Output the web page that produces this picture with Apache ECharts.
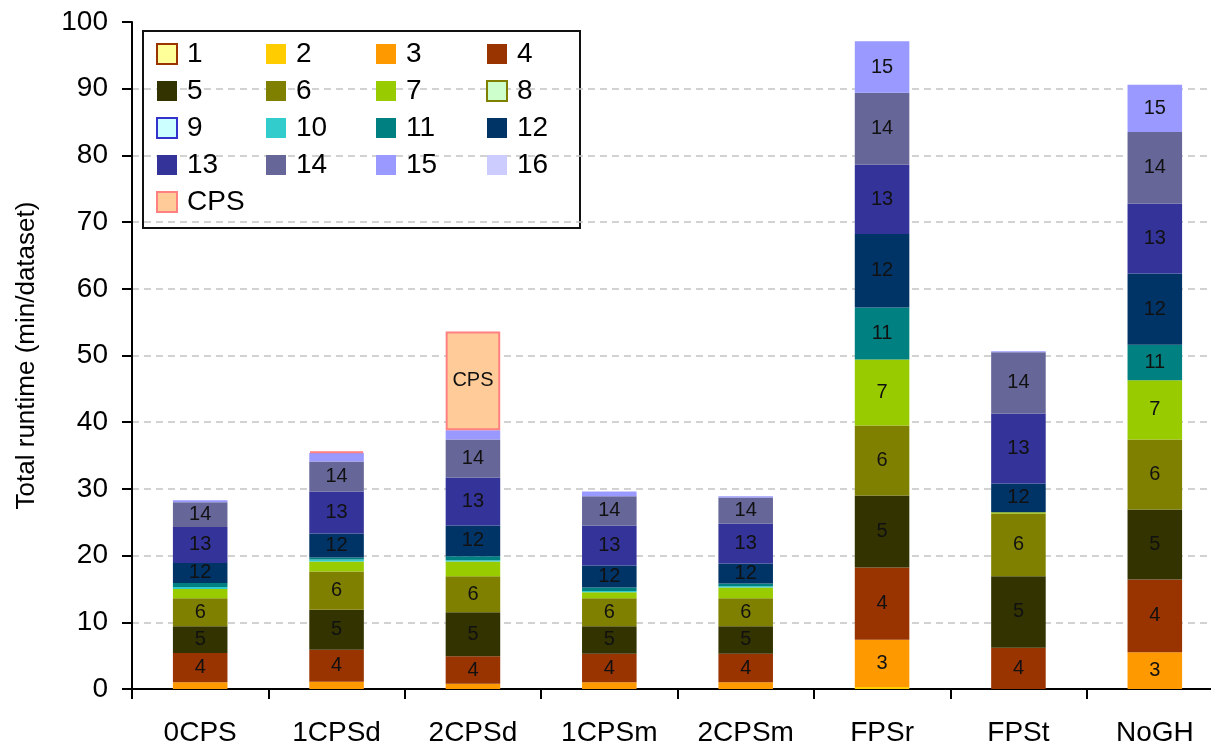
<!DOCTYPE html>
<html>
<head>
<meta charset="utf-8">
<script src="https://cdn.jsdelivr.net/npm/echarts@6/dist/echarts.min.js"></script>
<style>
  html, body { margin: 0; padding: 0; background: #fff; overflow: hidden; }
  /* the original plot runs a little past the right edge of the picture */
  #chart { width: 1224px; height: 748px; }
</style>
</head>
<body>
<div id="chart"></div>
<script>
// runtime per step, stacked (min/dataset)
const categories = ['0CPS', '1CPSd', '2CPSd', '1CPSm', '2CPSm', 'FPSr', 'FPSt', 'NoGH']
const yTicks = [0, 10, 20, 30, 40, 50, 60, 70, 80, 90, 100]

const s1 = [0, 0, 0, 0, 0, 0, 0, 0]
const s2 = [0, 0, 0, 0, 0, 0.3, 0, 0]
const s3 = [1.0, 1.1, 0.8, 1.0, 1.0, 7.1, 0, 5.5]
const s4 = [4.4, 4.8, 4.1, 4.3, 4.3, 10.8, 6.2, 10.9]
const s5 = [4.0, 6.0, 6.6, 4.1, 4.1, 10.8, 10.7, 10.5]
const s6 = [4.2, 5.7, 5.4, 4.2, 4.2, 10.5, 9.4, 10.5]
const s7 = [1.4, 1.5, 2.2, 0.9, 1.6, 9.9, 0.2, 8.9]
const s8 = [0, 0, 0, 0, 0, 0, 0, 0]
const s9 = [0, 0, 0, 0, 0, 0, 0, 0]
const s10 = [0.3, 0.3, 0.2, 0.2, 0.2, 0, 0, 0]
const s11 = [0.6, 0.3, 0.6, 0.5, 0.4, 7.8, 0, 5.3]
const s12 = [3.0, 3.6, 4.6, 3.3, 3.0, 11.0, 4.3, 10.7]
const s13 = [5.4, 6.3, 7.2, 6.0, 6.0, 10.4, 10.5, 10.5]
const s14 = [3.7, 4.5, 5.7, 4.4, 3.9, 10.8, 9.2, 10.7]
const s15 = [0.3, 1.3, 1.4, 0.7, 0.2, 7.7, 0.15, 7.1]
const s16 = [0, 0, 0, 0, 0, 0, 0, 0]
const sCPS = [0, 0.2, 14.8, 0, 0, 0, 0, 0]

const seriesNames = ['1', '2', '3', '4', '5', '6', '7', '8', '9', '10', '11', '12', '13', '14', '15', '16', 'CPS']
const seriesValues = [s1, s2, s3, s4, s5, s6, s7, s8, s9, s10, s11, s12, s13, s14, s15, s16, sCPS]
const seriesColors = ['#FFFF99', '#FFCC00', '#FF9900', '#993300', '#333300', '#808000', '#99CC00', '#CCFFCC',
  '#CCFFFF', '#33CCCC', '#008080', '#003366', '#333399', '#666699', '#9999FF', '#CCCCFF', '#FFCC99']
// only a few of the original styles have an outline
const seriesBorders = { '1': '#993300', '8': '#808000', '9': '#3333CC', 'CPS': '#FF8080' }

const font = 'Liberation Sans, Arial, sans-serif'

const chart = echarts.init(document.getElementById('chart'))

const series = seriesNames.map((name, i) => ({
  name: name,
  type: 'bar',
  stack: 'total',
  barWidth: '40%',
  data: seriesValues[i].map((v) => (v > 0 ? v : '-')),
  itemStyle: {
    color: seriesColors[i],
    borderColor: seriesBorders[name] || seriesColors[i],
    borderWidth: seriesBorders[name] ? 2 : 0,
  },
  label: {
    show: true,
    position: 'inside',
    fontFamily: font,
    fontSize: 20,
    color: '#111',
    formatter: function (p) {
      return p.value >= 2.5 ? p.seriesName : ''
    },
  },
}))

const legendCols = [
  ['1', '5', '9', '13', 'CPS'],
  ['2', '6', '10', '14'],
  ['3', '7', '11', '15'],
  ['4', '8', '12', '16'],
]
const legendLeft = [156, 266, 376, 486]

const option = {
  animation: false,
  backgroundColor: '#fff',
  legend: legendCols.map((col, i) => ({
    data: col,
    orient: 'vertical',
    left: legendLeft[i],
    top: 40,
    padding: 0,
    itemWidth: 20,
    itemHeight: 20,
    itemGap: 9,
    icon: 'rect',
    selectedMode: false,
    textStyle: {
      fontFamily: font,
      fontSize: 28,
      color: '#000',
      padding: [0, 0, 0, 5],
    },
  })),
  graphic: [
    {
      type: 'rect',
      z: 0,
      shape: { x: 143, y: 31, width: 437, height: 197 },
      style: { fill: '#fff', stroke: '#111', lineWidth: 2 },
    },
  ],
  grid: {
    left: 132,
    right: 1,
    top: 22,
    bottom: 59,
  },
  xAxis: {
    type: 'category',
    data: categories,
    axisLine: { lineStyle: { color: '#000', width: 2 } },
    axisTick: { show: true, length: 10, lineStyle: { color: '#000', width: 2 } },
    axisLabel: { fontFamily: font, fontSize: 28, color: '#000', margin: 30 },
  },
  yAxis: {
    type: 'value',
    min: yTicks[0],
    max: yTicks[yTicks.length - 1],
    interval: 10,
    name: 'Total runtime (min/dataset)',
    nameLocation: 'middle',
    nameGap: 92,
    nameTextStyle: { fontFamily: font, fontSize: 26, color: '#000' },
    axisLine: { show: true, lineStyle: { color: '#000', width: 2 } },
    axisTick: { show: true, length: 10, lineStyle: { color: '#000', width: 2 } },
    axisLabel: { fontFamily: font, fontSize: 28, color: '#000', margin: 24 },
    splitLine: {
      show: true,
      lineStyle: {
        // no grid line on the top edge
        color: yTicks.map((t, i) => (i === yTicks.length - 1 ? 'rgba(0,0,0,0)' : '#c4c4c4')),
        type: [7, 5],
        width: 1.5,
      },
    },
  },
  series: series,
}

option && chart.setOption(option)
</script>
</body>
</html>
